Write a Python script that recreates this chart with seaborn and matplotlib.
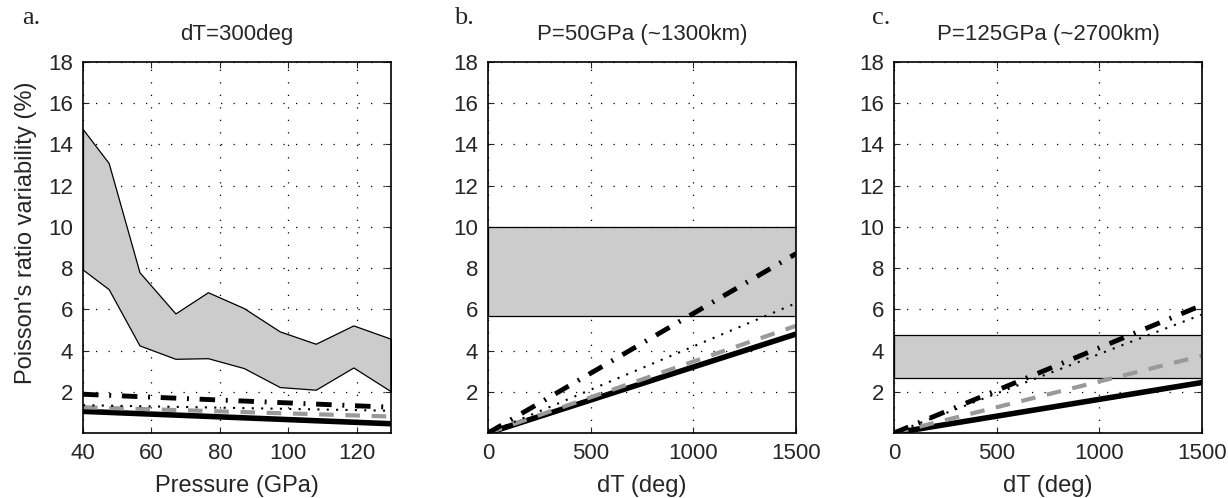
import numpy as np
import pandas as pd
import matplotlib
matplotlib.use("Agg")
import matplotlib.pyplot as plt
import seaborn as sns

sns.set_style("ticks")
plt.rcParams["font.family"] = ["Liberation Sans", "DejaVu Sans"]

# panel a: dT = 300 deg, versus pressure
pressure = [40, 47.5, 56.5, 67, 76.5, 87, 97.5, 108, 119, 130]
band_hi = [14.73, 13.1, 7.8, 5.8, 6.83, 6.06, 4.93, 4.33, 5.22, 4.57]
band_lo = [7.92, 6.98, 4.25, 3.6, 3.63, 3.15, 2.23, 2.1, 3.18, 2.02]
p_ends = [40, 130]
a_dashdot = [1.88, 1.25]
a_dotted = [1.35, 1.08]
a_gray = [1.25, 0.8]
a_solid = [1.05, 0.45]

# panels b and c: versus dT
dT = [0, 1500]
b_band = (5.7, 10.0)
b_dashdot = [0, 8.7]
b_dotted = [0, 6.3]
b_gray = [0, 5.2]
b_solid = [0, 4.8]
c_band = (2.67, 4.75)
c_dashdot = [0, 6.2]
c_dotted = [0, 5.75]
c_gray = [0, 3.75]
c_solid = [0, 2.45]

titles = ["dT=300deg", "P=50GPa (~1300km)", "P=125GPa (~2700km)"]
panel_tags = ["a.", "b.", "c."]

styles = {
    "solid": dict(color="black", lw=4.0, linestyle="-"),
    "gray": dict(color="#999999", lw=3.0, linestyle=(0, (3.5, 2.8))),
    "dotted": dict(color="black", lw=1.5, linestyle=(0, (1, 3.5))),
    "dashdot": dict(color="black", lw=3.5, linestyle=(0, (3.2, 2.2, 0.4, 2.2))),
}

fig = plt.figure(figsize=(12.28, 4.98), dpi=100)
lefts = [0.0676, 0.3974, 0.728]
axes = [fig.add_axes([l, 0.1305, 0.2508, 0.745]) for l in lefts]

series = [
    (p_ends, {"solid": a_solid, "gray": a_gray, "dotted": a_dotted, "dashdot": a_dashdot}),
    (dT, {"solid": b_solid, "gray": b_gray, "dotted": b_dotted, "dashdot": b_dashdot}),
    (dT, {"solid": c_solid, "gray": c_gray, "dotted": c_dotted, "dashdot": c_dashdot}),
]

for i, ax in enumerate(axes):
    if i == 0:
        ax.fill_between(pressure, band_lo, band_hi, facecolor="#cccccc",
                        edgecolor="black", lw=0.9, zorder=1.5)
    else:
        lo, hi = b_band if i == 1 else c_band
        ax.axhspan(lo, hi, facecolor="#cccccc", edgecolor="black", lw=0.9, zorder=1.5)

    xs, lines = series[i]
    for key in ["solid", "gray", "dotted", "dashdot"]:
        df = pd.DataFrame({"x": xs, "y": lines[key]})
        sns.lineplot(data=df, x="x", y="y", ax=ax, zorder=3, **styles[key])

    ax.set_ylim(0, 18)
    ax.set_yticks(range(2, 19, 2))
    if i == 0:
        ax.set_xlim(40, 130)
        ax.set_xticks([40, 60, 80, 100, 120])
        ax.set_xlabel("Pressure (GPa)", fontsize=17, labelpad=8)
        ax.set_ylabel("Poisson's ratio variability (%)", fontsize=17)
        ax.yaxis.set_label_coords(-0.15, 0.54)
    else:
        ax.set_xlim(0, 1500)
        ax.set_xticks([0, 500, 1000, 1500])
        ax.set_xlabel("dT (deg)", fontsize=17, labelpad=8)
        ax.set_ylabel("")
    ax.set_title(titles[i], fontsize=16, pad=16)
    ax.grid(True, color="black", linestyle=(0, (1, 9)), lw=0.9)
    ax.set_axisbelow(True)
    ax.tick_params(direction="in", length=4, width=0.8, top=True, right=True,
                   labelsize=16, pad=7)
    for s in ax.spines.values():
        s.set_linewidth(1.2)
        s.set_color("black")
        s.set_zorder(5)

for tag, x in zip(panel_tags, [0.018, 0.370, 0.710]):
    fig.text(x, 0.952, tag, fontsize=19, family=["Liberation Serif", "DejaVu Serif"])

fig.savefig("out.png", dpi=100)
